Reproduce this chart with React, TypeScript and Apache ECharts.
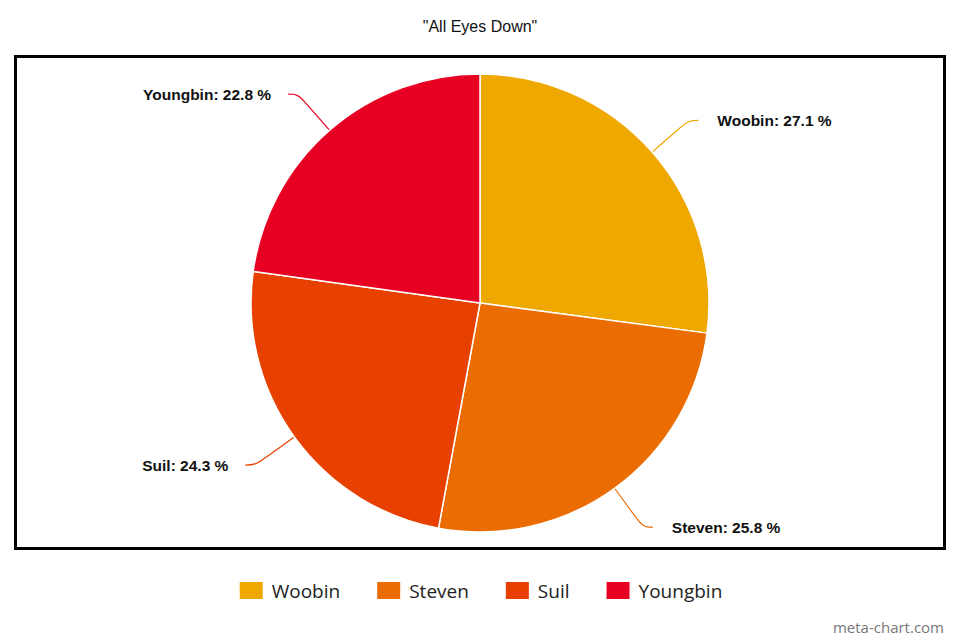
import React, { useEffect, useRef } from "react";
import * as echarts from "echarts";

const categories = ["Woobin", "Steven", "Suil", "Youngbin"];
const values = [27.1, 25.8, 24.3, 22.8];
const colors = ["#EFA800", "#EB6C00", "#E84000", "#E80022"];
const rightSide = [true, true, false, false];

export default function App() {
  const ref = useRef<HTMLDivElement>(null);
  useEffect(() => {
    if (!ref.current) return;
    const chart = echarts.init(ref.current, undefined, { renderer: "svg" });
    chart.setOption({
      animation: false,
      backgroundColor: "#ffffff",
      title: {
        text: '"All Eyes Down"',
        left: "center",
        top: 13,
        textStyle: { fontFamily: "Liberation Sans, Arial", fontSize: 16, fontWeight: "normal", color: "#111" },
      },
      legend: {
        bottom: 34,
        left: "center",
        itemWidth: 25,
        itemHeight: 19,
        itemGap: 35,
        icon: "rect",
        data: categories,
        textStyle: { fontFamily: "Open Sans", fontSize: 19, color: "#222", padding: [0, 0, 0, 3] },
      },
      graphic: [
        {
          type: "rect",
          shape: { x: 15.5, y: 56.5, width: 929, height: 492 },
          style: { fill: "none", stroke: "#000", lineWidth: 3 },
          z: -1,
        },
        {
          type: "text",
          right: 16,
          bottom: 6,
          style: { text: "meta-chart.com", fill: "#777", fontFamily: "Open Sans", fontSize: 15 },
        },
      ],
      series: [
        {
          type: "pie",
          center: [480, 303],
          radius: 229,
          startAngle: 90,
          clockwise: true,
          data: categories.map((c, i) => ({
            name: c,
            value: values[i],
            itemStyle: { color: colors[i] },
            label: { padding: rightSide[i] ? [0, 0, 0, 14] : [0, 12, 0, 0] },
          })),
          itemStyle: { borderColor: "#fff", borderWidth: 1.5 },
          label: {
            formatter: (p: any) => `${p.name}: ${p.value} %`,
            fontFamily: "Liberation Sans, Arial",
            fontWeight: "bold",
            fontSize: 15.5,
            color: "#111",
          },
          labelLine: { show: true, smooth: 0.4, length: 48, length2: 10, lineStyle: { width: 1.2 } },
        },
      ],
    });
    return () => chart.dispose();
  }, []);
  return <div ref={ref} style={{ position: "fixed", left: 0, top: 0, width: 960, height: 640 }} />;
}
